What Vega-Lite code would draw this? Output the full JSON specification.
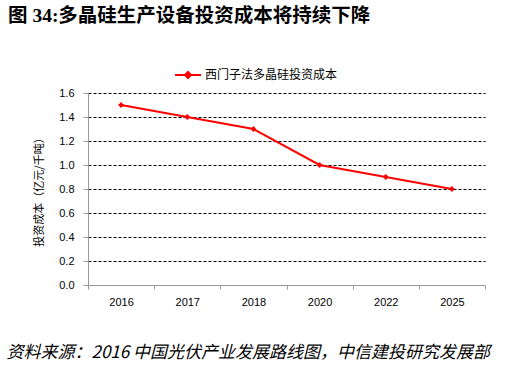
{
  "$schema": "https://vega.github.io/schema/vega-lite/v6.json",
  "autosize": {"type": "none"},
  "width": 397,
  "height": 192,
  "padding": {"left": 88, "top": 93, "right": 30, "bottom": 85},
  "background": "white",
  "title": {
    "text": "图 34:多晶硅生产设备投资成本将持续下降",
    "anchor": "start",
    "frame": "group",
    "font": "Liberation Serif, Noto Sans CJK SC",
    "fontSize": 19.5,
    "fontWeight": "bold",
    "color": "black",
    "dx": -80,
    "dy": -34
  },
  "config": {
    "view": {"stroke": null},
    "font": "Liberation Sans, Noto Sans CJK SC"
  },
  "data": {
    "values": [
      {"year": "2016", "cost": 1.5, "series": "西门子法多晶硅投资成本"},
      {"year": "2017", "cost": 1.4, "series": "西门子法多晶硅投资成本"},
      {"year": "2018", "cost": 1.3, "series": "西门子法多晶硅投资成本"},
      {"year": "2020", "cost": 1.0, "series": "西门子法多晶硅投资成本"},
      {"year": "2022", "cost": 0.9, "series": "西门子法多晶硅投资成本"},
      {"year": "2025", "cost": 0.8, "series": "西门子法多晶硅投资成本"}
    ]
  },
  "encoding": {
    "x": {
      "field": "year",
      "type": "ordinal",
      "scale": {"type": "band", "paddingInner": 0, "paddingOuter": 0},
      "axis": {
        "title": "资料来源：2016 中国光伏产业发展路线图，中信建投研究发展部",
        "titleFont": "Noto Sans CJK SC",
        "titleFontStyle": "italic",
        "titleFontWeight": "normal",
        "titleFontSize": 17,
        "titleColor": "black",
        "titleAnchor": "start",
        "titleAlign": "left",
        "titleBaseline": "middle",
        "titleX": -82,
        "titleY": 67,
        "labelAngle": 0,
        "labelFont": "Liberation Sans",
        "labelFontSize": 11,
        "labelColor": "black",
        "labelPadding": 7,
        "tickBand": "extent",
        "tickColor": "#999999",
        "tickSize": 4,
        "domainColor": "#999999",
        "grid": false
      }
    },
    "y": {
      "field": "cost",
      "type": "quantitative",
      "scale": {"domain": [0, 1.6], "nice": false},
      "axis": {
        "title": "投资成本（亿元/千吨）",
        "titleFont": "Noto Sans CJK SC",
        "titleFontSize": 11,
        "titleFontWeight": "normal",
        "titleColor": "black",
        "titlePadding": 14,
        "values": [0, 0.2, 0.4, 0.6, 0.8, 1.0, 1.2, 1.4, 1.6],
        "format": ".1f",
        "labelFont": "Liberation Sans",
        "labelFontSize": 11,
        "labelColor": "black",
        "labelPadding": 9,
        "tickColor": "#999999",
        "tickSize": 5,
        "domainColor": "#999999",
        "grid": true,
        "gridColor": "black",
        "gridDash": [3, 2],
        "gridOpacity": {"condition": {"test": "datum.value === 0", "value": 0}, "value": 1}
      }
    }
  },
  "layer": [
    {
      "mark": {"type": "line", "strokeWidth": 2},
      "encoding": {
        "color": {
          "field": "series",
          "type": "nominal",
          "scale": {"range": ["#FF0000"]},
          "legend": {
            "title": null,
            "orient": "none",
            "legendX": 89,
            "legendY": -29,
            "labelFont": "Noto Sans CJK SC",
            "labelFontSize": 12,
            "labelColor": "black",
            "symbolType": "M-1.3,0H1.3M0,-0.3L0.3,0L0,0.3L-0.3,0Z",
            "symbolSize": 400,
            "labelOffset": 6,
            "encode": {
              "symbols": {
                "update": {
                  "fill": {"value": "#FF0000"},
                  "stroke": {"value": "#FF0000"},
                  "strokeWidth": {"value": 2},
                  "opacity": {"value": 1}
                }
              }
            }
          }
        }
      }
    },
    {
      "mark": {"type": "point", "shape": "diamond", "filled": true, "size": 35, "color": "#FF0000", "opacity": 1}
    }
  ]
}
